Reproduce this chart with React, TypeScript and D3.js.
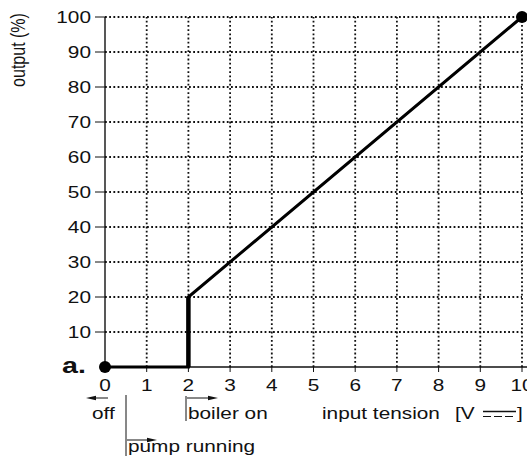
import React from "react";
import * as d3 from "d3";

const xTicks = [0, 1, 2, 3, 4, 5, 6, 7, 8, 9, 10];
const yTicks = [10, 20, 30, 40, 50, 60, 70, 80, 90, 100];
const curveX = [0, 2, 2, 10];
const curveY = [0, 0, 20, 100];
const endX = [0, 10];
const endY = [0, 100];
const yLabel = "output (%)";
const xLabel = "input tension";
const unitLabel = "[V";
const offLabel = "off";
const pumpLabel = "pump running";
const boilerLabel = "boiler on";
const seriesLabel = "a.";

const W = 527;
const H = 456;
const SX = 1.3;
const FONT = "Liberation Sans, Arial, sans-serif";

function T({ x, y, children, anchor = "start", size = 15, weight = "normal", rotate = 0 }: any) {
  return (
    <g transform={`translate(${x},${y}) scale(${SX},1)${rotate ? ` rotate(${rotate})` : ""}`}>
      <text textAnchor={anchor} fontSize={size} fontWeight={weight} fontFamily={FONT} fill="#111">
        {children}
      </text>
    </g>
  );
}

function Arrow({ x1, x2, y }: any) {
  const dir = x2 > x1 ? 1 : -1;
  const hl = 10;
  const hw = 2.2;
  return (
    <g>
      <line x1={x1} y1={y} x2={x2 - dir * hl} y2={y} stroke="#111" strokeWidth={1} />
      <path d={`M${x2},${y} L${x2 - dir * hl},${y - hw} L${x2 - dir * hl},${y + hw} Z`} fill="#111" />
    </g>
  );
}

export default function App() {
  const x = d3.scaleLinear().domain([0, 10]).range([105, 522]);
  const y = d3.scaleLinear().domain([0, 100]).range([367, 17]);
  const pts: [number, number][] = curveX.map((v, i) => [x(v), y(curveY[i])]);
  const line = d3.line();
  const dotted = "1.8,2.4";

  return (
    <svg width={W} height={H} style={{ position: "absolute", left: 0, top: 0, background: "#fff" }}>
      {/* grid */}
      {yTicks.map((t) => (
        <line key={"gy" + t} x1={x(0)} x2={x(10)} y1={y(t)} y2={y(t)} stroke="#111" strokeWidth={1.8} strokeDasharray={dotted} />
      ))}
      {xTicks.filter((t) => t > 0).map((t) => (
        <line key={"gx" + t} x1={x(t)} x2={x(t)} y1={y(0)} y2={y(100)} stroke="#111" strokeWidth={1.8} strokeDasharray={dotted} />
      ))}
      {/* axes */}
      <line x1={x(0)} x2={x(0)} y1={y(0)} y2={y(100)} stroke="#111" strokeWidth={1.4} />
      <line x1={x(0)} x2={W} y1={y(0)} y2={y(0)} stroke="#111" strokeWidth={1.4} />
      {yTicks.map((t) => (
        <g key={"yt" + t}>
          <line x1={x(0) - 10} x2={x(0)} y1={y(t)} y2={y(t)} stroke="#111" strokeWidth={1} />
          <T x={91} y={y(t) + 6} anchor="end" size={16}>{t}</T>
        </g>
      ))}
      {xTicks.map((t) => (
        <g key={"xt" + t}>
          <line x1={x(t)} x2={x(t)} y1={y(0)} y2={y(0) + 5} stroke="#111" strokeWidth={1} />
          <T x={x(t)} y={391} anchor="middle" size={16}>{t}</T>
        </g>
      ))}
      {/* curve */}
      <path d={line(pts) || ""} fill="none" stroke="#000" strokeWidth={3} strokeLinejoin="miter" />
      <line x1={x(2)} x2={x(2)} y1={y(0)} y2={y(20)} stroke="#000" strokeWidth={4.5} />
      {endX.map((v, i) => (
        <circle key={"d" + i} cx={x(v)} cy={y(endY[i])} r={6} fill="#000" />
      ))}
      {/* labels */}
      <T x={25} y={50} anchor="middle" size={16} rotate={-90}>{yLabel}</T>
      <T x={62} y={373} size={22} weight="bold">{seriesLabel}</T>
      <Arrow x1={108} x2={86} y={398} />
      <T x={92} y={419} size={16}>{offLabel}</T>
      <line x1={126} x2={126} y1={395} y2={456} stroke="#111" strokeWidth={1} />
      <Arrow x1={127} x2={157} y={440} />
      <T x={128} y={452} size={16}>{pumpLabel}</T>
      <line x1={186} x2={186} y1={396} y2={421} stroke="#111" strokeWidth={1} />
      <Arrow x1={187} x2={218} y={398} />
      <T x={188} y={419} size={16}>{boilerLabel}</T>
      <T x={322} y={419} size={16}>{xLabel}</T>
      <T x={455} y={419} size={16}>{unitLabel}</T>
      <line x1={483} x2={516} y1={411.5} y2={411.5} stroke="#111" strokeWidth={1.6} />
      <line x1={483} x2={516} y1={416.5} y2={416.5} stroke="#111" strokeWidth={1.2} strokeDasharray="8,3" />
      <T x={517} y={419} size={16}>]</T>
    </svg>
  );
}
